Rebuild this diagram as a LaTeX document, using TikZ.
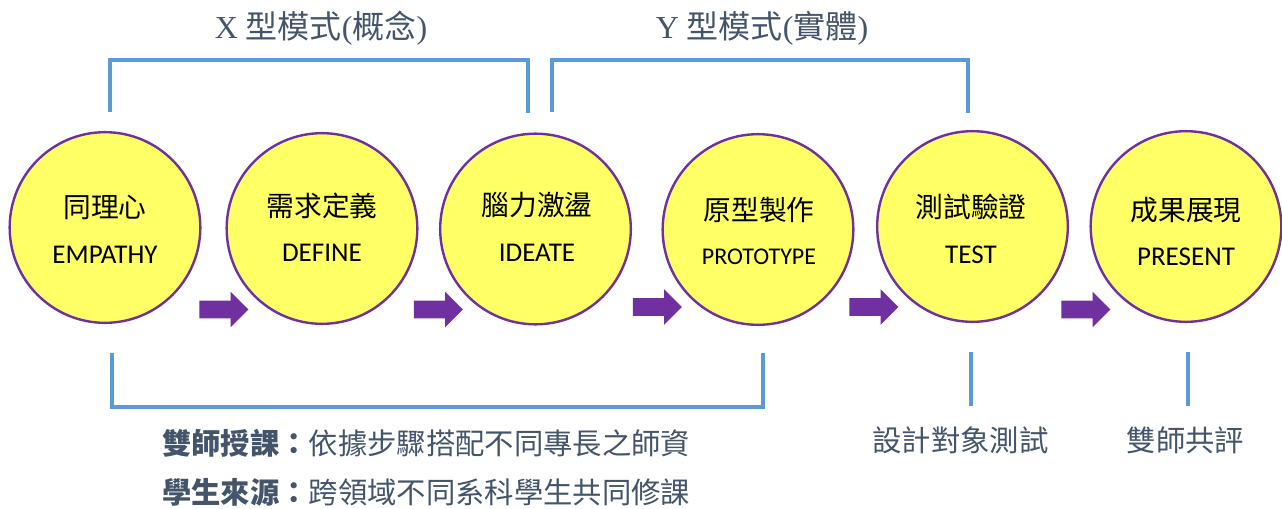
\documentclass[tikz,border=0pt]{standalone}
\usepackage{fontspec}
\setmainfont{Liberation Serif}
\newfontfamily\cjk{Noto Sans CJK TC}
\newfontfamily\latin{Carlito}
\usetikzlibrary{shapes.arrows}

\definecolor{stagefill}{HTML}{FFFF66}
\definecolor{stageline}{HTML}{7030A0}
\definecolor{bracketblue}{HTML}{5B9BD5}
\definecolor{notegray}{HTML}{44546A}

\begin{document}
\begin{tikzpicture}[x=0.75pt,y=-0.75pt,
	stage/.style={ circle, draw=stageline, line width=1.8pt, fill=stagefill, inner sep=0pt, minimum size=143pt },
	zh/.style={ inner sep=0pt, font=\cjk\fontsize{20.8}{24}\selectfont },
	en/.style={ inner sep=0pt, font=\latin\fontsize{20.3}{24}\selectfont },
	flow/.style={ single arrow, fill=stageline, inner xsep=0pt, inner ysep=6.4pt, text height=0pt, text depth=0pt, minimum height=36.75pt, single arrow head extend=6.75pt },
	bracket/.style={ bracketblue, line width=2.6pt },
	title/.style={ notegray, font=\fontsize{24}{28}\selectfont },
	note/.style={ notegray, inner sep=0pt, font=\cjk\fontsize{22}{26}\selectfont }
]
\useasboundingbox (0,0) rectangle (1282,508);

% brackets over the two groups
\draw[bracket] (110,112) |- (528,60) -- (528,113);
\draw[bracket] (552,112) |- (968,60) -- (968,113);
\node at (321,28) (xtitle) [title] {X {\cjk 型模式}({\cjk 概念})};
\node at (762,28) (ytitle) [title] {Y {\cjk 型模式}({\cjk 實體})};

% the six stages
\node at (105,227.5) (s1) [stage] {};
\node at (105,207) (s1zh) [zh] {同理心};
\node at (105,255) (s1en) [en] {EMPATHY};

\node at (322,228.5) (s2) [stage] {};
\node at (322,206) (s2zh) [zh] {需求定義};
\node at (322,253) (s2en) [en] {DEFINE};

\node at (535.5,229) (s3) [stage] {};
\node at (537,205) (s3zh) [zh] {腦力激盪};
\node at (537,253) (s3en) [en] {IDEATE};

\node at (758,229.5) (s4) [stage] {};
\node at (759,210) (s4zh) [zh] {原型製作};
\node at (759,257) (s4en) [en, font=\latin\fontsize{18}{22}\selectfont] {PROTOTYPE};

\node at (972.5,226.5) (s5) [stage] {};
\node at (971,207) (s5zh) [zh] {測試驗證};
\node at (971,255) (s5en) [en] {TEST};

\node at (1186,226.5) (s6) [stage] {};
\node at (1186,210) (s6zh) [zh] {成果展現};
\node at (1186,257) (s6en) [en] {PRESENT};

% arrows between stages
\node at (219.5,309.5) (a1) [flow] {};
\node at (434,309.5) (a2) [flow] {};
\node at (653,307) (a3) [flow] {};
\node at (869.5,307) (a4) [flow] {};
\node at (1081.5,309.5) (a5) [flow] {};

% brackets below
\draw[bracket] (112,353) |- (763,407) -- (763,353);
\draw[bracket] (971,352) -- (971,406);
\draw[bracket] (1188,352) -- (1188,406);

\node at (162,443) (teach) [note, anchor=west] {{\bfseries 雙師授課：}依據步驟搭配不同專長之師資};
\node at (162,492) (source) [note, anchor=west] {{\bfseries 學生來源：}跨領域不同系科學生共同修課};
\node at (960.5,440) (test) [note] {設計對象測試};
\node at (1185.5,440) (review) [note] {雙師共評};

\end{tikzpicture}
\end{document}
